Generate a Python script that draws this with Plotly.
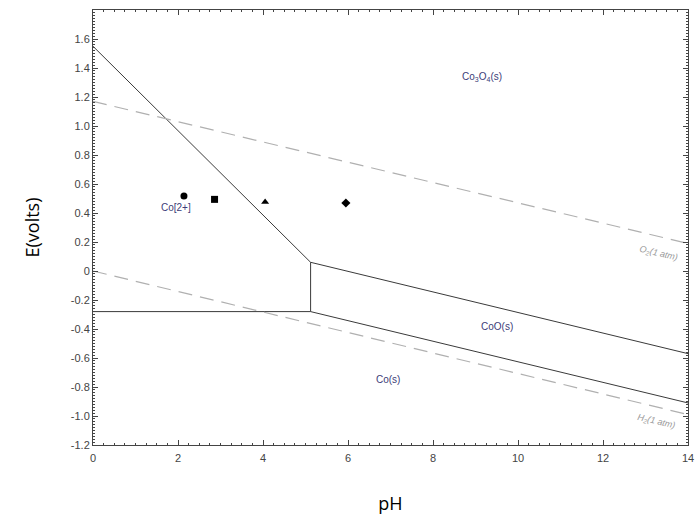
import plotly.graph_objects as go

# Boundary lines (pH, E)
ph_co2_co3o4 = [0, 5.12]
e_co2_co3o4 = [1.55, 0.06]
ph_co2_coo = [5.12, 5.12]
e_co2_coo = [0.06, -0.28]
ph_co2_co = [0, 5.12]
e_co2_co = [-0.28, -0.28]
ph_co3o4_coo = [5.12, 14]
e_co3o4_coo = [0.06, -0.57]
ph_coo_co = [5.12, 14]
e_coo_co = [-0.28, -0.91]
ph_o2 = [0, 14]
e_o2 = [1.17, 0.19]
ph_h2 = [0, 14]
e_h2 = [0.0, -0.99]

# Experimental points
pt_ph = [2.14, 2.86, 4.05, 5.95]
pt_e = [0.517, 0.494, 0.476, 0.469]
pt_symbols = ["circle", "square", "triangle-up", "diamond"]

# Region labels
region_text = ["Co<sub>3</sub>O<sub>4</sub>(s)", "CoO(s)", "Co(s)", "Co[2+]"]
region_ph = [9.16, 9.51, 6.95, 1.95]
region_e = [1.34, -0.38, -0.75, 0.44]

line_text = ["O<sub>2</sub>(1 atm)", "H<sub>2</sub>(1 atm)"]
line_ph = [13.3, 13.25]
line_e = [0.12, -1.04]

x_ticks = [0, 2, 4, 6, 8, 10, 12, 14]
y_ticks = [-1.2, -1.0, -0.8, -0.6, -0.4, -0.2, 0, 0.2, 0.4, 0.6, 0.8, 1.0, 1.2, 1.4, 1.6]
y_ticktext = ["-1.2", "-1.0", "-0.8", "-0.6", "-0.4", "-0.2", "0", "0.2", "0.4", "0.6", "0.8", "1.0", "1.2", "1.4", "1.6"]

fig = go.Figure()
solid = dict(color="#3a3a3a", width=1)
dash = dict(color="#b0b0b0", width=1.2, dash="14px,8px")

for xs, ys in [(ph_co2_co3o4, e_co2_co3o4), (ph_co2_coo, e_co2_coo), (ph_co2_co, e_co2_co),
               (ph_co3o4_coo, e_co3o4_coo), (ph_coo_co, e_coo_co)]:
    fig.add_trace(go.Scatter(x=xs, y=ys, mode="lines", line=solid, hoverinfo="skip"))
for xs, ys in [(ph_o2, e_o2), (ph_h2, e_h2)]:
    fig.add_trace(go.Scatter(x=xs, y=ys, mode="lines", line=dash, hoverinfo="skip"))

fig.add_trace(go.Scatter(x=pt_ph, y=pt_e, mode="markers",
                         marker=dict(symbol=pt_symbols, size=7, color="black")))

for t, x, y in zip(region_text, region_ph, region_e):
    fig.add_annotation(x=x, y=y, text=t, showarrow=False,
                       font=dict(family="Arial, Liberation Sans", size=10, color="#3c3c78"))
for t, x, y in zip(line_text, line_ph, line_e):
    fig.add_annotation(x=x, y=y, text="<i>" + t + "</i>", showarrow=False, textangle=13,
                       font=dict(family="Arial, Liberation Sans", size=9, color="#999999"))

axis_common = dict(showgrid=False, zeroline=False, showline=True, linecolor="#444444",
                   linewidth=1, mirror="ticks", ticks="inside", ticklen=5, tickcolor="#444444",
                   ticklabeloverflow="allow", automargin=False,
                   tickfont=dict(family="Arial, Liberation Sans", size=11, color="#444444"))

fig.update_xaxes(range=[0, 14], tickvals=x_ticks, ticklabelstandoff=3,
                 minor=dict(dtick=0.25, ticks="inside", ticklen=2, tickcolor="#444444"),
                 title=dict(text="pH", font=dict(family="Open Sans", size=18, color="black"), standoff=34),
                 **axis_common)
fig.update_yaxes(range=[-1.2, 1.8], tickvals=y_ticks, ticktext=y_ticktext,
                 minor=dict(dtick=0.02, ticks="inside", ticklen=2, tickcolor="#444444"),
                 title=dict(text="E(volts)", font=dict(family="Open Sans", size=18, color="black"), standoff=26),
                 **axis_common)

fig.update_layout(width=696, height=517, showlegend=False,
                  margin=dict(l=93, r=8, t=10, b=72),
                  plot_bgcolor="white", paper_bgcolor="white")

fig.write_html("out.html")
